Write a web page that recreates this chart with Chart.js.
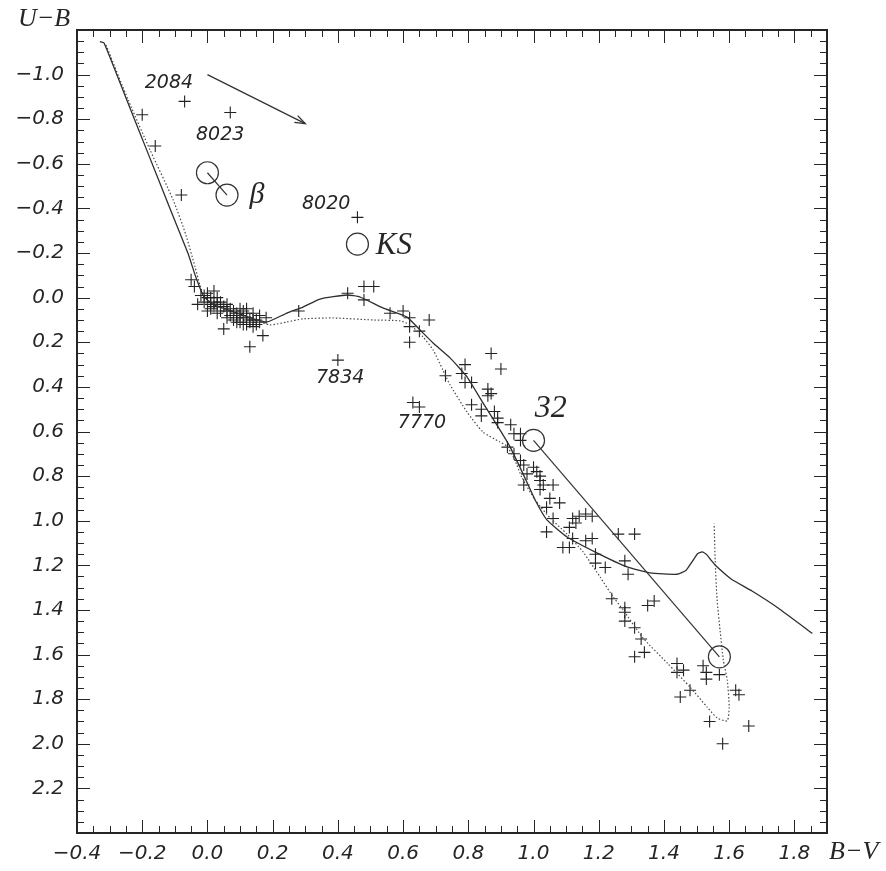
<!DOCTYPE html>
<html><head><meta charset="utf-8">
<script src="https://cdn.jsdelivr.net/npm/chart.js@4.4.1/dist/chart.umd.min.js"></script>
<style>html,body{margin:0;padding:0;background:#fff;}</style>
</head><body>
<canvas id="c" width="886" height="871"></canvas>
<script>
// ---- data ----
const xTicks = [-0.4,-0.2,0.0,0.2,0.4,0.6,0.8,1.0,1.2,1.4,1.6,1.8];
const yTicks = [-1.0,-0.8,-0.6,-0.4,-0.2,0.0,0.2,0.4,0.6,0.8,1.0,1.2,1.4,1.6,1.8,2.0,2.2];

const stars = [
  [-0.07,-0.88],[0.07,-0.83],[0.46,-0.36],[0.40,0.28],[0.63,0.47],[0.65,0.49],
  [-0.20,-0.82],[-0.16,-0.68],[-0.08,-0.46],[-0.05,-0.08],[-0.04,-0.05],
  [-0.02,-0.01],[0.00,-0.02],[0.01,0.00],[0.02,-0.03],[-0.01,0.02],[-0.03,0.03],[0.01,0.03],
  [0.02,0.04],[0.00,0.06],[0.04,0.06],[0.06,0.03],[0.08,0.06],[0.09,0.07],[0.10,0.05],
  [0.12,0.07],[0.13,0.10],[0.11,0.12],[0.14,0.07],[0.15,0.10],[0.16,0.08],[0.18,0.09],
  [0.15,0.12],[0.05,0.14],[0.17,0.17],[0.13,0.22],[0.28,0.06],[0.09,0.11],[0.03,0.07],
  [0.02,0.02],[0.05,0.04],[0.07,0.08],[0.11,0.09],[0.13,0.11],[0.12,0.05],[0.00,0.00],
  [0.03,0.00],[0.06,0.06],[0.08,0.10],[0.10,0.08],[0.12,0.12],[0.14,0.13],
  [-0.01,-0.01],[0.04,0.02],[0.07,0.05],[0.09,0.09],[0.11,0.06],[0.14,0.10],[0.16,0.11],
  [0.01,0.05],[0.06,0.09],[0.10,0.11],[0.12,0.09],[0.03,0.03],
  [0.43,-0.02],[0.48,-0.05],[0.51,-0.05],[0.48,0.01],[0.56,0.07],[0.60,0.06],[0.62,0.09],
  [0.68,0.10],[0.62,0.13],[0.65,0.15],[0.62,0.20],
  [0.87,0.25],[0.90,0.32],[0.73,0.35],[0.79,0.30],[0.78,0.34],[0.79,0.38],[0.81,0.38],
  [0.86,0.41],[0.86,0.44],[0.87,0.43],[0.81,0.48],[0.84,0.50],[0.84,0.53],[0.88,0.51],
  [0.89,0.54],[0.89,0.56],[0.93,0.57],[0.94,0.61],[0.96,0.61],[0.96,0.64],[0.92,0.67],
  [0.94,0.70],[0.96,0.73],[0.97,0.75],[1.00,0.76],[0.98,0.79],[1.01,0.78],[1.02,0.80],
  [1.02,0.82],[1.03,0.84],[1.06,0.84],[1.02,0.86],[0.97,0.84],[1.05,0.90],[1.08,0.92],
  [1.04,0.94],[1.06,0.99],[1.12,0.99],[1.14,0.98],[1.16,0.97],[1.18,0.98],[1.11,1.03],
  [1.13,1.01],[1.04,1.05],[1.12,1.08],[1.16,1.09],[1.18,1.08],[1.09,1.12],[1.11,1.12],
  [1.19,1.15],[1.26,1.06],[1.31,1.06],[1.28,1.18],[1.29,1.24],[1.22,1.21],[1.19,1.19],
  [1.24,1.35],[1.28,1.39],[1.28,1.41],[1.35,1.38],[1.37,1.36],[1.28,1.45],[1.31,1.48],
  [1.33,1.53],[1.31,1.61],[1.34,1.59],[1.44,1.64],[1.44,1.68],[1.46,1.67],[1.52,1.65],
  [1.53,1.68],[1.53,1.71],[1.57,1.69],[1.48,1.76],[1.45,1.79],[1.62,1.76],[1.63,1.78],
  [1.54,1.90],[1.66,1.92],[1.58,2.00]
];

const solidCurve = [
  [-0.330,-1.148],[-0.317,-1.142],[-0.250,-0.896],[-0.180,-0.639],[-0.110,-0.382],
  [-0.060,-0.200],[-0.035,-0.090],[-0.013,-0.010],[0.014,0.028],[0.039,0.042],
  [0.091,0.069],[0.152,0.100],[0.183,0.109],[0.244,0.069],[0.293,0.042],[0.345,0.006],
  [0.428,-0.012],[0.468,-0.003],[0.538,0.046],[0.612,0.087],[0.652,0.145],[0.692,0.203],
  [0.744,0.270],[0.796,0.355],[0.845,0.472],[0.897,0.593],[0.928,0.669],[0.965,0.781],
  [1.005,0.907],[1.041,0.996],[1.103,1.073],[1.194,1.144],[1.287,1.207],[1.357,1.234],
  [1.440,1.240],[1.468,1.222],[1.488,1.180],[1.503,1.148],[1.517,1.140],[1.531,1.152],
  [1.545,1.178],[1.560,1.203],[1.606,1.261],
  [1.670,1.315],[1.750,1.391],[1.855,1.505]
];

const dottedCurve = [
  [-0.311,-1.133],[-0.243,-0.886],[-0.176,-0.662],[-0.105,-0.438],[-0.066,-0.281],[-0.038,-0.138],
  [-0.023,-0.057],[-0.007,0.001],[0.039,0.046],[0.091,0.078],[0.152,0.104],[0.192,0.122],
  [0.244,0.109],[0.293,0.095],[0.385,0.091],[0.508,0.100],[0.591,0.104],[0.621,0.122],
  [0.661,0.176],[0.692,0.234],[0.722,0.324],[0.744,0.391],[0.796,0.512],[0.845,0.602],
  [0.897,0.647],[0.918,0.665],[0.940,0.719],[0.965,0.808],[1.005,0.907],[1.051,0.988],
  [1.103,1.060],[1.152,1.140],[1.204,1.252],[1.244,1.341],[1.275,1.400],[1.336,1.526],
  [1.410,1.638],[1.480,1.746],[1.532,1.835],[1.563,1.884],[1.594,1.897],[1.600,1.835],
  [1.594,1.714],[1.582,1.624],[1.572,1.490],[1.563,1.355],[1.557,1.176],[1.554,1.014]
];

const circles = [[0.00,-0.56],[0.06,-0.46],[0.46,-0.24],[1.00,0.64],[1.57,1.61]];
const betaPair = [[0.00,-0.56],[0.06,-0.46]];
const pair32 = [[1.00,0.64],[1.57,1.61]];
const reddening = [[0.00,-1.00],[0.30,-0.78]];

const labelTexts = ['2084','8023','8020','7834','7770','\u03B2','KS','32'];
const labelAt = [[-0.118,-0.963],[0.039,-0.730],[0.364,-0.420],[0.407,0.360],[0.658,0.562],[0.152,-0.460],[0.572,-0.232],[1.053,0.499]];

// ---- helpers ----
const toXY = a => a.map(p => ({x:p[0], y:p[1]}));
const fmt = v => { const a = Math.abs(v) < 1e-9 ? 0 : v; return (a < 0 ? '\u2212' : '') + Math.abs(a).toFixed(1); };
const INK = '#262626';

const decor = {
  id: 'decor',
  afterDraw(chart) {
    const ctx = chart.ctx, a = chart.chartArea;
    const xs = chart.scales.x, ys = chart.scales.y;
    ctx.save();
    ctx.setLineDash([]);
    ctx.globalAlpha = 1;
    ctx.fillStyle = INK;
    // frame
    const L0 = Math.round(a.left), R0 = Math.round(a.right), T0 = Math.round(a.top), B0 = Math.round(a.bottom);
    ctx.fillRect(L0 - 1, T0 - 1, R0 - L0 + 2, 2);
    ctx.fillRect(L0 - 1, B0 - 1, R0 - L0 + 2, 2);
    ctx.fillRect(L0 - 1, T0 - 1, 2, B0 - T0 + 2);
    ctx.fillRect(R0 - 1, T0 - 1, 2, B0 - T0 + 2);
    // tick marks: every 0.05, longer at multiples of 0.2
    const nx = Math.round((xs.max - xs.min) / 0.05);
    for (let i = 1; i < nx; i++) {
      const v = xs.min + i * 0.05;
      const major = Math.abs(Math.round(v / 0.2) * 0.2 - v) < 1e-6;
      const len = major ? 13 : 7;
      const px = Math.round(xs.getPixelForValue(v));
      ctx.fillRect(px, B0 - len, 1, len);
      ctx.fillRect(px, T0, 1, len);
    }
    const ny = Math.round((ys.max - ys.min) / 0.05);
    for (let i = 1; i < ny; i++) {
      const v = ys.min + i * 0.05;
      const major = Math.abs(Math.round(v / 0.2) * 0.2 - v) < 1e-6;
      const len = major ? 13 : 7;
      const py = Math.round(ys.getPixelForValue(v));
      ctx.fillRect(L0, py, len, 1);
      ctx.fillRect(R0 - len, py, len, 1);
    }
    // reddening arrow head
    const x0 = xs.getPixelForValue(reddening[0][0]), y0 = ys.getPixelForValue(reddening[0][1]);
    const x1 = xs.getPixelForValue(reddening[1][0]), y1 = ys.getPixelForValue(reddening[1][1]);
    const ang = Math.atan2(y1 - y0, x1 - x0);
    ctx.strokeStyle = '#333';
    ctx.lineWidth = 1.3;
    ctx.beginPath();
    ctx.moveTo(x1 - 11 * Math.cos(ang - 0.35), y1 - 11 * Math.sin(ang - 0.35));
    ctx.lineTo(x1, y1);
    ctx.lineTo(x1 - 11 * Math.cos(ang + 0.35), y1 - 11 * Math.sin(ang + 0.35));
    ctx.stroke();
    // labels
    ctx.textAlign = 'center'; ctx.textBaseline = 'middle';
    labelTexts.forEach((t, i) => {
      const serif = (t === '\u03B2' || t === 'KS' || t === '32');
      const size = t === '32' ? 32 : (t === 'KS' ? 31 : (t === '\u03B2' ? 30 : 19));
      ctx.font = serif ? `italic ${size}px "Liberation Serif"` : `oblique ${size}px "DejaVu Sans"`;
      ctx.fillText(t, xs.getPixelForValue(labelAt[i][0]), ys.getPixelForValue(labelAt[i][1]));
    });
    // axis titles
    ctx.font = 'italic 26px "Liberation Serif"';
    ctx.textAlign = 'left';
    ctx.fillText('U\u2212B', 18, 19);
    ctx.fillText('B\u2212V', 829, 852);
    ctx.restore();
  }
};

const tickFont = { family: '"DejaVu Sans"', size: 20, style: 'oblique' };

new Chart(document.getElementById('c'), {
  type: 'scatter',
  data: {
    datasets: [
      { data: toXY(solidCurve), showLine: true, borderColor: '#2e2e2e', borderWidth: 1.3, pointRadius: 0, tension: 0.15, fill: false },
      { data: toXY(dottedCurve), showLine: true, borderColor: '#4a4a4a', borderWidth: 1.2, borderDash: [1.5, 2], pointRadius: 0, tension: 0.2, fill: false },
      { data: toXY(betaPair), showLine: true, borderColor: '#333', borderWidth: 1.2, pointRadius: 0 },
      { data: toXY(pair32), showLine: true, borderColor: '#333', borderWidth: 1.2, pointRadius: 0 },
      { data: toXY(reddening), showLine: true, borderColor: '#333', borderWidth: 1.3, pointRadius: 0 },
      { data: toXY(circles), pointStyle: 'circle', pointRadius: 11, borderColor: '#333', borderWidth: 1.2, backgroundColor: 'rgba(0,0,0,0)' },
      { data: toXY(stars), pointStyle: 'cross', pointRadius: 6, borderColor: '#222', borderWidth: 1.1 }
    ]
  },
  options: {
    responsive: false, animation: false, devicePixelRatio: 1,
    layout: { padding: { left: 0, right: 59, top: 30, bottom: 0 } },
    plugins: { legend: { display: false }, tooltip: { enabled: false } },
    scales: {
      x: {
        type: 'linear', min: -0.4, max: 1.9,
        grid: { display: false, drawTicks: false }, border: { display: false },
        afterBuildTicks: s => { s.ticks = xTicks.map(v => ({ value: v })); },
        afterFit: s => { s.height = 38; },
        ticks: { callback: v => fmt(v), font: tickFont, color: INK, padding: 9, maxRotation: 0, autoSkip: false }
      },
      y: {
        type: 'linear', min: -1.2, max: 2.4, reverse: true,
        grid: { display: false, drawTicks: false }, border: { display: false },
        afterBuildTicks: s => { s.ticks = yTicks.map(v => ({ value: v })); },
        afterFit: s => { s.width = 77; },
        ticks: { callback: v => fmt(v), font: tickFont, color: INK, padding: 13, autoSkip: false }
      }
    }
  },
  plugins: [decor]
});
</script>
</body></html>
